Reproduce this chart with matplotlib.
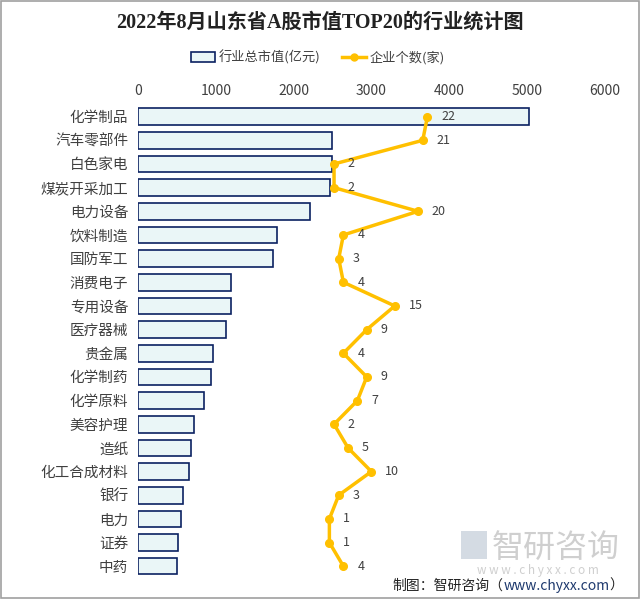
import matplotlib
matplotlib.use('Agg')
import matplotlib.pyplot as plt
from matplotlib.lines import Line2D
from matplotlib.patches import Patch, Rectangle
from matplotlib.offsetbox import TextArea, HPacker, AnchoredOffsetbox

plt.rcParams['font.family'] = ['Noto Sans CJK SC', 'DejaVu Sans']

# industries, total market value (100 million yuan) and number of companies
industries = ['化学制品', '汽车零部件', '白色家电', '煤炭开采加工', '电力设备', '饮料制造',
              '国防军工', '消费电子', '专用设备', '医疗器械', '贵金属', '化学制药',
              '化学原料', '美容护理', '造纸', '化工合成材料', '银行', '电力', '证券', '中药']
market_value = [5030, 2500, 2495, 2470, 2215, 1790, 1740, 1190, 1190, 1125,
                970, 935, 845, 715, 680, 650, 575, 550, 520, 500]
companies = [22, 21, 2, 2, 20, 4, 3, 4, 15, 9, 4, 9, 7, 2, 5, 10, 3, 1, 1, 4]
value_ticks = [0, 1000, 2000, 3000, 4000, 5000, 6000]

text_color = '#404040'
bar_fill = '#EAF6F7'
bar_edge = '#0B2161'
line_color = '#FFC000'

fig = plt.figure(figsize=(6.4, 5.99), dpi=100)
ax = fig.add_axes([0.2156, 0.035, 0.7294, 0.79])
ax2 = ax.twiny()

pos = list(range(len(industries)))
ax.barh(pos, market_value, height=0.7, color=bar_fill, edgecolor=bar_edge, linewidth=1.2)
ax.set_xlim(0, 6000)
ax.set_ylim(len(industries) - 0.5, -0.5)
ax.set_yticks(pos)
ax.set_yticklabels(industries, fontsize=10.5, color=text_color)
ax.xaxis.tick_top()
ax.set_xticks(value_ticks)
ax.set_xticklabels([str(v) for v in value_ticks], fontsize=10, color=text_color)
ax.tick_params(axis='both', length=0)
ax.tick_params(axis='x', pad=5)
ax.tick_params(axis='y', pad=7)
for s in ax.spines.values():
    s.set_visible(False)

# company counts on a hidden secondary x-axis
ax2.plot(companies, pos, color=line_color, linewidth=2.5, marker='o', markersize=5.5)
ax2.set_xlim(-40, 60)
ax2.set_xticks([])
ax2.tick_params(axis='x', length=0, labeltop=False, labelbottom=False)
for s in ax2.spines.values():
    s.set_visible(False)
for c, p in zip(companies, pos):
    ax2.annotate(str(c), (c, p), xytext=(10, 0), textcoords='offset points',
                 fontsize=9, color=text_color, va='center', ha='left')
ax2.set_ylim(len(industries) - 0.5, -0.5)

fig.text(0.5, 0.963, '2022年8月山东省A股市值TOP20的行业统计图', ha='center', va='center',
         fontsize=14.5, fontweight='bold', color='#222222',
         family=['Liberation Serif', 'Noto Sans CJK SC'])

handles = [Patch(facecolor=bar_fill, edgecolor=bar_edge, linewidth=1.2),
           Line2D([], [], color=line_color, linewidth=2.5, marker='o', markersize=5)]
fig.legend(handles, ['行业总市值(亿元)', '企业个数(家)'], loc='center', bbox_to_anchor=(0.497, 0.904),
           ncol=2, frameon=False, fontsize=9.5, labelcolor=text_color, handlelength=1.8,
           handletextpad=0.3, columnspacing=1.6)

# watermark
fig.text(0.768, 0.086, '智研咨询', fontsize=23, color='#cfcfcf', ha='left', va='center')
fig.patches.append(Rectangle((0.72, 0.067), 0.041, 0.047, transform=fig.transFigure,
                             facecolor='#d4dbe3', edgecolor='none'))
fig.text(0.84, 0.047, 'w w w . c h y x x . c o m', fontsize=8.5, color='#cfcfcf', ha='center', va='center')

# source note
parts = [TextArea('制图：智研咨询（', textprops=dict(fontsize=10, color='#222222')),
         TextArea('www.chyxx.com', textprops=dict(fontsize=10, color='#1F3A6E')),
         TextArea('）', textprops=dict(fontsize=10, color='#222222'))]
box = HPacker(children=parts, align='baseline', pad=0, sep=0)
anchored = AnchoredOffsetbox(loc='center right', child=box, frameon=False,
                             bbox_to_anchor=(0.985, 0.022), bbox_transform=fig.transFigure, pad=0)
fig.add_artist(anchored)

fig.patches.append(Rectangle((0.001, 0.001), 0.998, 0.998, transform=fig.transFigure,
                             facecolor='none', edgecolor='#a0a0a0', linewidth=1.2))

fig.savefig('out.png', dpi=100)
